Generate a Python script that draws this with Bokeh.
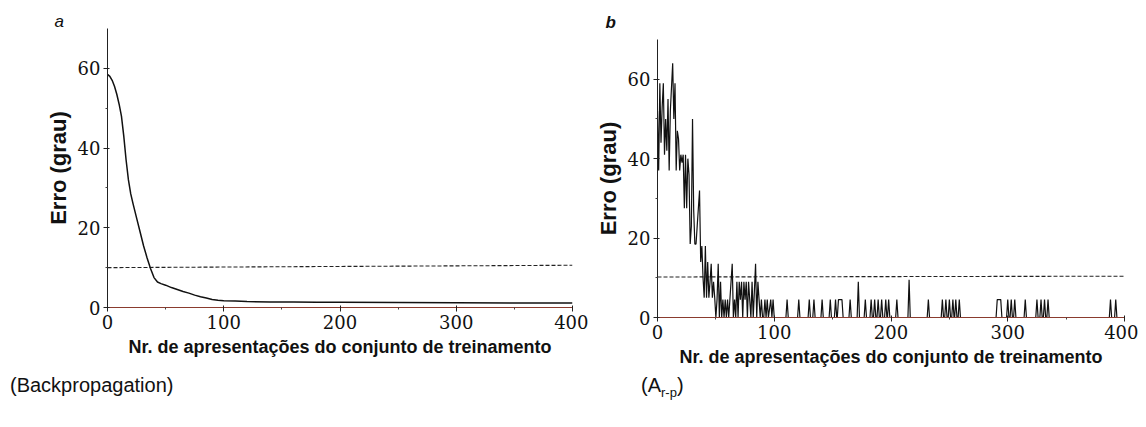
from bokeh.plotting import figure
from bokeh.models import Range1d, FixedTicker, Div, Spacer
from bokeh.layouts import row, column
from bokeh.embed import file_html
from bokeh.resources import INLINE

# ---------------- data ----------------
x_ticks = [0, 100, 200, 300, 400]
x_minor = [50, 150, 250, 350]
y_ticks = [0, 20, 40, 60]
y_minor = [10, 30, 50]

# panel a (Backpropagation)
bp_epochs = [0, 2, 4, 6, 8, 10, 12, 14, 16, 18, 20, 22, 25, 28, 31, 34, 37, 40, 43,
             46, 50, 55, 60, 65, 70, 75, 80, 85, 90, 95, 100, 110, 120, 140, 160,
             180, 200, 250, 300, 350, 400]
bp_error = [58.5, 58, 57, 55.5, 53.5, 51, 48, 43, 37, 32, 28.5, 26, 22.5, 19, 15.5,
            12.5, 9.8, 7.5, 6.4, 6.0, 5.6, 5.0, 4.5, 4.0, 3.6, 3.1, 2.7, 2.4, 2.0,
            1.8, 1.7, 1.6, 1.5, 1.4, 1.35, 1.3, 1.3, 1.25, 1.2, 1.15, 1.1]

# panel b (A r-p): early noisy phase
arp_epochs = [0, 1, 2, 3, 4, 5, 6, 7, 8, 9, 10, 11, 13, 14, 15, 16, 17, 18, 19, 20,
              21, 22, 23, 24, 25, 26, 27, 28, 29, 30, 31, 32, 33, 34, 36, 37, 38, 39,
              40, 41, 42, 43, 44, 45, 46, 47, 48, 49, 50, 51, 52, 53, 54, 55, 56, 57,
              58, 59, 60, 61, 62, 64, 65, 66, 67, 68, 69, 70, 71, 72, 73, 74, 75, 76,
              77, 78, 79, 80, 81, 82, 84, 85, 86, 87, 88, 89, 90, 91, 92, 93, 94, 95,
              97, 98, 99, 100]
arp_error = [52, 37, 59, 44, 53, 59, 41, 50, 42, 55, 37, 52, 64, 50, 59, 37, 47, 45,
             37, 41, 39, 41, 27.5, 41, 27.5, 40, 36, 18.5, 23, 50, 27, 18.5, 18.5, 23,
             32, 14, 18, 10, 5, 18, 5, 14, 5, 9, 13.5, 5, 9, 5, 0, 4.5, 13.5, 0, 9, 0,
             4.5, 0, 4.5, 0, 4.5, 0, 4.5, 13.5, 0, 4.5, 0, 9, 0, 9, 4.5, 9, 0, 9, 4.5,
             9, 0, 9, 4.5, 0, 9, 0, 13.5, 0, 9, 4.5, 0, 4.5, 0, 0, 4.5, 0, 4.5, 0,
             4.5, 0, 4.5, 0]
# later isolated spikes (start of top, end of top, height)
arp_spike_start = [111, 121, 130, 134, 141, 148, 152.5, 155, 165, 172, 178, 183, 186,
                   189, 192, 195.5, 198, 205, 215.5, 232, 244, 247, 250, 253, 255.5,
                   258.5, 291, 300, 303, 306, 315, 325, 328.5, 331.5, 334.5, 388, 392.5]
arp_spike_end = [111, 121, 130, 134, 141, 148, 152.5, 158, 165, 172, 178, 183, 186,
                 189, 192, 195.5, 198, 205, 215.5, 232, 244, 247, 250, 253, 255.5,
                 258.5, 294, 300, 303, 306, 315, 325, 328.5, 331.5, 334.5, 388, 392.5]
arp_spike_height = [4.5, 4.5, 4.5, 4.5, 4.5, 4.5, 4.5, 4.5, 4.5, 9, 4.5, 4.5, 4.5,
                    4.5, 4.5, 4.5, 4.5, 4.5, 9.5, 4.5, 4.5, 4.5, 4.5, 4.5, 4.5,
                    4.5, 4.5, 4.5, 4.5, 4.5, 4.5, 4.5, 4.5, 4.5, 4.5, 4.5, 4.5]

threshold_epochs = [0, 400]
threshold_a = [10.0, 10.6]
threshold_b = [10.2, 10.4]

# build full series for panel b
b_x = list(arp_epochs)
b_y = list(arp_error)
for s, e, h in zip(arp_spike_start, arp_spike_end, arp_spike_height):
    b_x += [s - 1, s, e, e + 1]
    b_y += [0, h, h, 0]
b_x.append(400)
b_y.append(0)

TICK_FONT = "DejaVu Serif"
LABEL_FONT = "Liberation Sans"
XLABEL = "Nr. de apresentações do conjunto de treinamento"
INK = "#111111"


def style(p, letter, letter_style, letter_offset, letter_standoff):
    p.toolbar.logo = None
    p.outline_line_color = None
    p.xgrid.visible = False
    p.ygrid.visible = False
    p.background_fill_color = "white"
    p.border_fill_color = "white"
    p.xaxis.ticker = FixedTicker(ticks=x_ticks, minor_ticks=x_minor)
    p.yaxis.ticker = FixedTicker(ticks=y_ticks, minor_ticks=y_minor)
    for ax in (p.xaxis[0], p.yaxis[0]):
        ax.major_label_text_font = TICK_FONT
        ax.major_label_text_font_size = "18px"
        ax.major_label_text_color = INK
        ax.major_tick_line_color = "#222222"
        ax.minor_tick_line_color = "#444444"
        ax.major_tick_in = 2
        ax.major_tick_out = 4
        ax.minor_tick_in = 0
        ax.minor_tick_out = 2
        ax.axis_label_text_font = LABEL_FONT
        ax.axis_label_text_font_style = "bold"
        ax.axis_label_text_color = INK
        ax.axis_label_standoff = 4
        ax.major_label_standoff = 3
    p.xaxis.axis_label_standoff = 5
    p.yaxis.axis_line_color = "#222222"
    p.xaxis.axis_line_color = "#8a3b2e"
    p.xaxis.axis_line_width = 1.2
    p.yaxis.axis_label = "Erro (grau)"
    p.yaxis.axis_label_text_font_size = "22px"
    p.xaxis.axis_label = XLABEL
    p.xaxis.axis_label_text_font_size = "18px"
    p.title.text = letter
    p.title.text_font = LABEL_FONT
    p.title.text_font_style = letter_style
    p.title.text_font_size = "17px"
    p.title.text_color = INK
    p.title.align = "left"
    p.title.offset = letter_offset
    p.title.standoff = letter_standoff


FRAME_H = 279
BOTTOM = 56

# ---------------- panel a ----------------
pa = figure(width=588, height=28 + FRAME_H + BOTTOM, output_backend="svg",
            toolbar_location=None,
            x_range=Range1d(0, 400), y_range=Range1d(0, 70),
            min_border_left=107, min_border_right=16, min_border_top=28,
            min_border_bottom=BOTTOM)
style(pa, "a", "italic", -53, -5)
pa.line(threshold_epochs, threshold_a, line_color="#222222", line_width=1.1,
        line_dash="4 2")
pa.line(bp_epochs, bp_error, line_color=INK, line_width=1.5)

# ---------------- panel b ----------------
pb = figure(width=550, height=35 + FRAME_H + BOTTOM, output_backend="svg",
            toolbar_location=None,
            x_range=Range1d(0, 400), y_range=Range1d(0, 70),
            min_border_left=69, min_border_right=14, min_border_top=35,
            min_border_bottom=BOTTOM)
style(pb, "b", "bold italic", -52, 15)
pb.line(threshold_epochs, threshold_b, line_color="#222222", line_width=1.1,
        line_dash="4 2")
pb.line(b_x, b_y, line_color=INK, line_width=1.2)

CAP = "font-family:'Liberation Sans';font-size:20px;line-height:24px;color:#111;"
cap_a = Div(text=f'<div style="{CAP}padding-left:10px">(Backpropagation)</div>',
            width=633, height=24, margin=0)
cap_b = Div(text=f'<div style="{CAP}padding-left:8px">(A<sub style="font-size:13px">'
                 f'r-p</sub>)</div>', width=500, height=24, margin=0)

layout = column(row(column(pa), column(Spacer(height=3, width=550), pb)),
                row(cap_a, cap_b))
open("out.html", "w").write(file_html(layout, INLINE))
